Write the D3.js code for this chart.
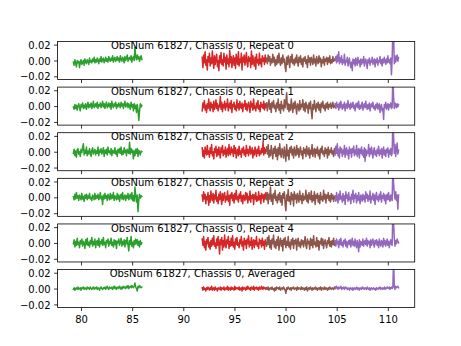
<!DOCTYPE html>
<html>
<head>
<meta charset="utf-8">
<script src="https://cdn.jsdelivr.net/npm/d3@7"></script>
<style>
  html, body { margin: 0; padding: 0; background: #fff; }
  svg { display: block; }
  text { font-family: "DejaVu Sans", sans-serif; font-size: 10px; fill: #000; }
</style>
</head>
<body>
<script>
// ---------------- DATA (values in units of 1e-3) ----------------
const UNIT = 1e-3;
const panelTitles = [
  "ObsNum 61827, Chassis 0, Repeat 0",
  "ObsNum 61827, Chassis 0, Repeat 1",
  "ObsNum 61827, Chassis 0, Repeat 2",
  "ObsNum 61827, Chassis 0, Repeat 3",
  "ObsNum 61827, Chassis 0, Repeat 4",
  "ObsNum 61827, Chassis 0, Averaged"
];
// frequency band of each segment (x start, x end)
const bandStart = [79.25, 91.85, 98.15, 104.85];
const bandEnd   = [85.95, 98.15, 104.85, 111.05];
const bandColors = ["#2ca02c", "#d62728", "#8c564b", "#9467bd"];
const xTicks = [80, 85, 90, 95, 100, 105, 110];
const yTicks = [-0.02, 0.00, 0.02];
const yTickLabels = ["\u22120.02", "0.00", "0.02"];

// Repeat 0
const g0 = [-2,-6,1,-4,-8,0,-3,-1,-9,-2,1,-5,-3,0,-6,2,-2,-4,1,-1,-5,3,-2,0,-3,2,-1,4,-3,1,
-2,3,0,-4,2,-1,5,-2,1,3,-3,0,4,-1,2,-2,5,1,-1,3,0,6,-2,2,4,-1,1,5,0,3,
-2,6,1,-1,4,2,-3,5,0,3,7,-1,2,4,1,6,-2,3,5,0,17,4,1,7,2,5,-1,3,6,1];
const r0 = [4,-9,7,-3,11,-6,1,-12,5,-2,9,-7,3,-4,12,-1,-10,6,-5,2,8,-8,0,-13,6,-3,10,-5,1,-7,
9,-2,4,-11,7,-4,2,-8,13,-3,5,-9,0,6,-6,3,-10,8,-1,-5,11,-7,2,-3,9,-12,4,-2,7,-6,
1,10,-4,-8,5,-1,3,-9,12,-5,6,-2,-7,4,-11,8,-3,1,-6,9,-4,2,-8,6,-1,3,-5,7,-2,1];
const b0 = [3,-4,7,-1,5,-6,2,-3,8,-2,4,-7,1,-5,6,-3,9,-1,-6,3,-4,7,-2,2,-8,-14,4,-5,6,-1,
-9,5,-2,8,-4,1,-6,3,-3,7,-1,-7,4,-2,6,-5,2,-8,3,-1,5,-4,1,-9,6,-2,3,-6,4,0,
-5,7,-3,2,-7,5,-1,-4,6,-2,3,-8,1,-3,5,-6,2,-1,4,-5,3,-2,6,-4,1,-3,5,-1,2,0];
const p0 = [2,5,-3,7,-1,11,-4,3,-2,6,-5,1,-3,8,-6,0,-2,4,-7,-1,3,-5,-9,-2,-13,2,-4,1,-7,3,
-2,-6,4,-3,0,-8,2,-5,1,-3,5,-7,-1,2,-4,-10,1,-3,3,-6,0,-2,4,-5,-1,2,-8,1,-3,3,
-6,0,-2,5,-4,1,-7,2,-3,4,-1,-5,2,-3,6,-2,1,-4,3,-18,2,40,35,-4,6,-2,3,7,-1,4];
// Repeat 1
const g1 = [-1,-4,2,-3,1,-5,0,3,-2,-6,2,-1,4,-3,1,-2,3,-4,0,5,-2,2,-1,4,-3,1,6,-2,0,3,
-1,5,-3,2,0,4,-2,1,6,-1,3,-3,2,5,-2,0,4,-1,3,-4,6,1,-2,3,0,5,-3,2,-1,4,
1,-2,5,0,3,-3,2,6,-1,1,4,-2,3,0,-4,5,-1,2,-6,3,-3,1,-8,2,-5,-18,-6,3,-1,1];
const r1 = [-6,4,-2,7,-5,1,-8,3,-3,9,-1,-6,5,-2,2,-7,6,-4,0,8,-3,3,-6,1,-1,12,-4,5,-7,2,
-2,6,-5,3,-1,9,-6,0,4,-3,7,-8,2,-1,5,-4,1,-6,8,-2,3,-5,6,-1,-3,4,-7,2,0,7,
-4,3,-6,1,5,-2,-8,6,-1,3,-5,9,-3,0,-6,4,-2,7,-4,1,-7,5,-1,2,-3,6,-5,3,-2,1];
const b1 = [4,-6,2,8,-4,3,-8,5,-1,7,-3,1,-7,4,-2,9,-5,2,-9,6,-3,1,-6,8,-2,5,17,-4,3,-7,
2,-5,9,-1,-8,4,-3,6,-2,-10,3,1,-6,7,-4,2,-1,8,-5,3,-7,5,-2,1,-9,4,-3,6,-6,-16,
2,-4,7,-1,-7,3,-2,5,-5,2,-8,4,-1,6,-3,1,-6,3,-2,5,-4,2,-1,4,-3,0,5,-2,1,-1];
const p1 = [3,-3,5,-1,2,-5,4,-2,6,0,-4,2,-2,5,-6,1,3,-3,7,-1,2,-4,4,-2,0,5,-3,1,-6,3,
-1,4,-2,6,-4,1,-3,2,5,-5,0,3,-2,6,-1,-4,2,-3,4,-6,1,3,-1,5,-3,0,-5,2,-2,4,
-4,1,3,-8,-1,2,-6,-3,-17,2,-2,5,-4,1,3,-5,2,-1,4,-3,-2,40,12,-3,4,1,-2,3,-1,2];
// Repeat 2
const g2 = [-2,3,-5,1,-7,2,4,-3,0,-6,3,-1,5,10,-4,2,-2,6,-5,1,-3,4,-1,-6,2,5,-3,0,3,-4,
1,-2,6,-5,2,-1,4,-3,0,5,-6,2,-2,3,-4,6,-1,1,-3,4,-5,2,0,-2,5,-3,1,-6,3,-1,
4,-2,6,-4,1,-3,5,-1,2,-5,3,0,-2,12,-3,4,-1,2,-9,1,-5,3,-2,4,-6,2,-1,-4,1,0];
const r2 = [5,-6,2,-8,6,-1,-4,8,-3,1,-7,5,-2,9,-5,0,-9,4,-1,7,-6,3,-4,6,-2,-8,5,-1,8,-5,
2,-3,6,-7,1,4,-5,9,-2,-4,6,-1,3,-6,8,-2,5,-8,0,3,-5,7,-3,1,-7,4,-1,6,-4,2,
-6,8,-2,3,-5,1,7,-3,-1,5,-8,2,-4,6,0,-6,3,-2,7,-5,1,-3,4,-1,12,-4,5,-2,3,1];
const b2 = [6,-3,9,-7,2,-5,8,-1,-9,4,-2,7,-6,3,-10,5,-4,10,-2,-7,4,1,-8,6,-3,-12,9,-5,2,-10,
5,-1,7,-4,3,-8,6,-2,-5,8,-3,4,-7,2,6,-4,1,-9,5,-2,3,-6,7,-1,-4,5,-8,2,-3,9,
-6,1,4,-7,3,-2,6,-5,2,-9,4,-1,7,-3,1,-6,5,-2,3,-8,6,-4,2,-1,5,-3,1,-6,4,-2];
const p2 = [-4,7,-2,10,-5,3,-8,6,-1,4,-6,2,-3,8,-7,1,5,-4,2,-9,6,-2,3,-7,4,-1,7,-5,2,-3,
8,-6,1,4,-8,3,-2,6,-4,2,-7,5,-12,3,-5,1,-2,9,-6,4,-3,6,-1,-8,2,5,-4,1,-6,3,
-2,7,-5,2,-3,4,-8,1,6,-4,2,-6,3,-1,5,-7,2,-3,4,-5,-2,40,20,-2,9,-6,4,11,-3,2];
// Repeat 3
const g3 = [1,-3,4,-2,6,-1,2,-4,3,0,-3,5,-2,1,-5,3,-1,4,-3,2,-1,5,-2,0,-4,3,1,-3,5,-2,
2,-1,4,-3,0,6,-2,1,-9,3,-2,5,-1,2,-4,4,0,-3,5,-2,3,-1,6,-4,2,0,-3,5,-2,3,
-5,1,4,-2,6,-3,0,3,-4,2,-1,5,-3,1,4,-2,6,-4,2,-5,13,2,-6,3,-18,-4,4,-1,2,1];
const r3 = [3,-5,7,-2,4,-8,1,-3,6,-10,2,-6,8,-1,-4,5,-7,3,-2,9,-5,0,-8,4,-3,7,-1,-9,5,-4,
2,6,-6,1,-3,8,-5,2,-10,4,-1,6,-4,3,-7,5,-2,9,-3,1,-6,4,-1,7,-5,2,-8,3,0,-4,
6,-2,5,-7,1,-3,8,-6,2,-1,4,-9,3,-2,6,-5,1,-4,7,-3,2,-8,5,-1,3,-6,4,-2,6,1];
const b3 = [-3,6,-8,4,-2,13,-5,3,-9,5,-1,9,-4,1,-7,4,-3,6,-6,2,-10,5,-1,7,-8,-17,3,-4,10,-5,
1,-9,6,-3,4,-11,7,-2,3,-7,5,-1,-6,8,-3,2,-8,5,-4,1,-2,9,-5,3,-7,6,-1,-3,8,-6,
2,-4,7,-9,3,-1,5,-6,2,-8,6,-3,1,-5,9,-2,4,-7,3,-1,6,-4,2,-6,5,-2,3,-5,1,-1];
const p3 = [2,-5,6,-1,-7,4,-3,8,-2,1,-6,5,-4,2,-9,7,-1,3,-5,6,-3,0,-8,4,-2,9,-6,3,-1,5,
-7,2,-4,6,-2,-8,3,1,-5,4,-3,2,-6,7,-1,4,-5,2,-3,8,-7,1,-2,5,-4,3,-9,2,6,-3,
1,-5,4,-2,7,-6,2,-1,5,-4,3,-8,1,4,-3,6,-2,-5,3,-1,-4,40,18,5,-2,7,-4,3,-15,3];
// Repeat 4
const g4 = [-1,4,-5,2,-3,6,-2,1,-6,3,-1,5,-4,2,0,-7,4,-2,6,-3,1,-5,3,-1,7,-4,2,-2,5,-6,
1,3,-3,6,-5,2,-1,4,-3,7,-2,1,-6,3,0,5,-4,2,-1,6,-3,1,-5,4,-2,3,-7,2,0,5,
-3,1,6,-4,2,-2,4,-5,3,-1,7,-3,-10,3,-2,8,-4,1,-6,3,-2,5,-1,4,-3,2,-5,3,-2,0];
const r4 = [5,-3,8,-6,2,-9,4,-1,7,-5,1,-8,3,-4,6,-2,9,-4,0,-7,5,-3,8,-1,-14,4,-2,7,-9,3,
-5,10,-2,-6,4,-1,8,-7,2,-4,6,-3,9,-5,1,-8,5,-2,7,-3,0,-6,4,-1,8,-4,2,-9,6,-2,
3,-7,5,-1,9,-5,2,-3,7,-8,1,4,-6,3,-2,8,-4,0,-7,5,-1,3,-5,6,-3,2,-8,4,-2,1];
const b4 = [-4,7,-2,9,-6,3,-8,5,-1,10,-5,2,-7,4,-3,8,-9,1,6,-4,3,-10,5,-2,7,-6,2,-3,8,-5,
1,-8,4,-2,6,-7,3,-1,5,-9,2,6,-4,1,-6,4,-2,3,-5,1,8,-3,-7,5,-1,2,-8,6,-3,4,
-6,9,-2,1,-5,7,-4,3,-9,2,-1,6,-3,5,-7,1,4,-2,-6,3,-1,7,-4,2,-5,3,-2,6,-3,1];
const p4 = [3,-4,5,-1,2,-6,4,-2,6,-3,1,-5,3,-1,5,-4,2,-6,0,3,-2,4,-5,1,6,-3,2,-4,5,-1,
-6,3,-2,-11,4,-5,2,0,-3,5,-4,1,3,-2,6,-4,3,-1,2,-6,4,-3,1,5,-2,-5,3,-1,4,-3,
2,-6,5,-1,-4,3,1,-5,6,-2,3,-4,0,5,-3,2,-6,1,4,-2,-3,40,25,6,-4,3,-1,5,2,0];
// Averaged
const g5 = [-1,1,-2,0,1,-1,2,-1,0,1,-2,1,0,2,-1,1,0,-1,2,0,1,-1,2,0,-1,1,2,-1,1,0,
2,-1,1,0,-2,1,2,0,-1,1,0,2,-1,1,3,0,-1,2,1,0,2,-1,1,3,0,2,-1,1,2,0,
3,1,-1,2,0,3,1,2,0,3,1,4,0,2,3,1,4,2,1,3,7,2,0,-3,3,1,4,2,1,2];
const r5 = [1,-2,2,-1,0,-3,1,-1,2,0,-2,1,-1,3,-2,0,1,-2,2,-1,0,-3,1,0,-1,2,-2,1,0,-1,
2,-2,0,1,-1,3,-2,1,0,-2,2,-1,1,0,-2,3,-1,1,0,1,-1,2,-2,0,1,-3,2,-1,1,0,
-2,2,-1,3,0,-1,1,-2,2,0,-1,3,-2,1,0,2,-1,1,-2,2,0,-1,3,1,-1,2,0,1,-1,1];
const b5 = [1,-1,2,-2,0,1,-1,2,-1,0,-3,1,-2,2,0,1,-1,2,-2,0,1,-1,2,0,-2,-6,1,-1,2,0,
-1,1,-2,1,0,2,-1,0,1,-2,2,-1,1,0,-1,2,-1,1,0,-2,1,-1,2,-3,0,1,-1,2,0,-2,
1,-1,0,2,-1,1,-2,0,1,-1,2,-2,1,0,-1,2,-1,1,0,-2,1,-1,2,0,-1,1,0,-1,2,0];
const p5 = [2,0,3,1,-1,2,0,1,3,-1,1,0,2,-1,1,2,0,-1,1,0,-2,1,0,-1,1,-2,0,1,-1,0,
2,-1,1,0,-2,1,0,-1,2,0,1,-1,1,0,-1,2,0,-1,1,-2,0,1,-1,0,1,-1,0,-2,1,0,
-1,1,0,2,-1,0,1,-1,0,2,-1,1,0,2,1,0,2,-1,1,2,0,1,40,3,-1,3,1,2,3,1];

const panelSeries = [
  [g0, r0, b0, p0],
  [g1, r1, b1, p1],
  [g2, r2, b2, p2],
  [g3, r3, b3, p3],
  [g4, r4, b4, p4],
  [g5, r5, b5, p5]
];

// ---------------- LAYOUT ----------------
const W = 461, H = 346;
const figH = 345.6;
const L = 0.125 * 460.8, R = 0.9 * 460.8;
const T = figH * 0.12, B = figH * 0.89;
const nP = 6, hs = 0.2;
const ph = (B - T) / (nP + (nP - 1) * hs);
const gap = ph * hs;

const x = d3.scaleLinear().domain([77.71, 112.63]).range([L, R]);
const titleX = 91.87;

const svg = d3.select("body").append("svg").attr("width", W).attr("height", H);
const defs = svg.append("defs");

panelSeries.forEach((series, i) => {
  const top = T + i * (ph + gap);
  const y = d3.scaleLinear().domain([-0.024, 0.024]).range([top + ph, top]);
  const g = svg.append("g");

  const clipId = "clip" + i;
  defs.append("clipPath").attr("id", clipId)
    .append("rect").attr("x", L).attr("y", top).attr("width", R - L).attr("height", ph);

  const plot = g.append("g").attr("clip-path", `url(#${clipId})`);
  series.forEach((vals, k) => {
    const n = vals.length;
    const pts = vals.map((v, j) => [bandStart[k] + (bandEnd[k] - bandStart[k]) * j / (n - 1), v * UNIT]);
    const line = d3.line().x(d => x(d[0])).y(d => y(d[1]));
    plot.append("path").attr("d", line(pts))
      .attr("fill", "none").attr("stroke", bandColors[k])
      .attr("stroke-width", 1.5).attr("stroke-linejoin", "round").attr("stroke-linecap", "square");
  });

  // title text inside the panel
  g.append("text").attr("x", x(titleX)).attr("y", top + 7.7)
    .attr("text-anchor", "middle").text(panelTitles[i]);

  // y axis
  const yAxis = d3.axisLeft(y).tickValues(yTicks).tickSize(3.5).tickPadding(3.5)
    .tickFormat((d, j) => yTickLabels[j]);
  const ya = g.append("g").attr("transform", `translate(${L},0)`).call(yAxis);
  ya.select(".domain").remove();
  ya.selectAll("line").attr("stroke", "#000").attr("stroke-width", 0.8);
  ya.selectAll("text").attr("font-family", "DejaVu Sans").attr("font-size", 10)
    .attr("dy", null).attr("y", 3.6).attr("fill", "#000");

  // x axis
  const xAxis = d3.axisBottom(x).tickValues(xTicks).tickSize(3.5).tickPadding(3.5)
    .tickFormat(i === nP - 1 ? d3.format("d") : () => "");
  const xa = g.append("g").attr("transform", `translate(0,${top + ph})`).call(xAxis);
  xa.select(".domain").remove();
  xa.selectAll("line").attr("stroke", "#000").attr("stroke-width", 0.8);
  xa.selectAll("text").attr("font-family", "DejaVu Sans").attr("font-size", 10)
    .attr("dy", null).attr("y", 15.7).attr("fill", "#000");

  // frame
  g.append("rect").attr("x", L).attr("y", top).attr("width", R - L).attr("height", ph)
    .attr("fill", "none").attr("stroke", "#000").attr("stroke-width", 0.8);
});
</script>
</body>
</html>
